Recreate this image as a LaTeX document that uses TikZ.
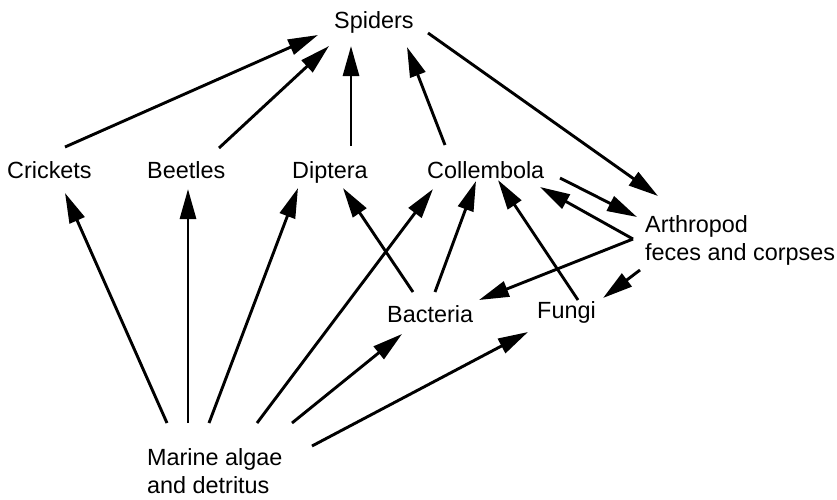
\documentclass[tikz,border=0pt]{standalone}
\usepackage{fontspec}
\setmainfont{Liberation Sans}
\usetikzlibrary{arrows.meta}
\begin{document}
\begin{tikzpicture}[x=1pt,y=-1pt,
  lbl/.style={inner sep=0pt,anchor=base west,font=\fontsize{23.4}{28}\selectfont,align=left},
  arr/.style={line width=2.9pt,-{Triangle[length=30pt,width=16pt]}}]
\useasboundingbox (0,0) rectangle (837,499);
\node[lbl] (sp) at (334,28) {Spiders};
\node[lbl] (cr) at (7,178) {Crickets};
\node[lbl] (be) at (147,178) {Beetles};
\node[lbl] (di) at (292,178) {Diptera};
\node[lbl] (co) at (427,178) {Collembola};
\node[lbl] (ar) at (645,260) {Arthropod\\feces and corpses};
\node[lbl] (ba) at (387,322) {Bacteria};
\node[lbl] (fu) at (537,318) {Fungi};
\node[lbl] (ma) at (147,493) {Marine algae\\and detritus};
\coordinate (j) at ([shift={(-12,-21)}]ar.base west);
% to spiders
\draw[arr] ([shift={(58,-31)}]cr.base west) -- ([shift={(-16,7)}]sp.base west);
\draw[arr] ([shift={(72,-30)}]be.base west) -- ([shift={(-5,18)}]sp.base west);
\draw[arr] ([shift={(59,-32)}]di.base west) -- ([shift={(17,18)}]sp.base west);
\draw[arr] ([shift={(18,-33)}]co.base west) -- ([shift={(73,19)}]sp.base west);
% spiders to arthropod
\draw[arr] ([shift={(94,5)}]sp.base west) -- ([shift={(13,-64)}]ar.base west);
% collembola to arthropod
\draw[arr] ([shift={(133,0)}]co.base west) -- ([shift={(-8,-43)}]ar.base west);
% arthropod junction
\draw[arr] (j) -- ([shift={(113,9)}]co.base west);
\draw[arr] (j) -- ([shift={(92,-22)}]ba.base west);
\draw[arr] ([shift={(-5,10)}]ar.base west) -- ([shift={(66,-20)}]fu.base west);
% bacteria, fungi
\draw[arr] ([shift={(26,-30)}]ba.base west) -- ([shift={(51,10)}]di.base west);
\draw[arr] ([shift={(48,-30)}]ba.base west) -- ([shift={(49,3)}]co.base west);
\draw[arr] ([shift={(41,-18)}]fu.base west) -- ([shift={(71,2)}]co.base west);
% marine algae
\draw[arr] ([shift={(20,-70)}]ma.base west) -- ([shift={(58,15)}]cr.base west);
\draw[arr] ([shift={(41,-70)}]ma.base west) -- ([shift={(41,11)}]be.base west);
\draw[arr] ([shift={(62,-70)}]ma.base west) -- ([shift={(6,10)}]di.base west);
\draw[arr] ([shift={(110,-70)}]ma.base west) -- ([shift={(6,11)}]co.base west);
\draw[arr] ([shift={(145,-70)}]ma.base west) -- ([shift={(15,12)}]ba.base west);
\draw[arr] ([shift={(165,-47)}]ma.base west) -- ([shift={(-9,14)}]fu.base west);
\end{tikzpicture}
\end{document}
